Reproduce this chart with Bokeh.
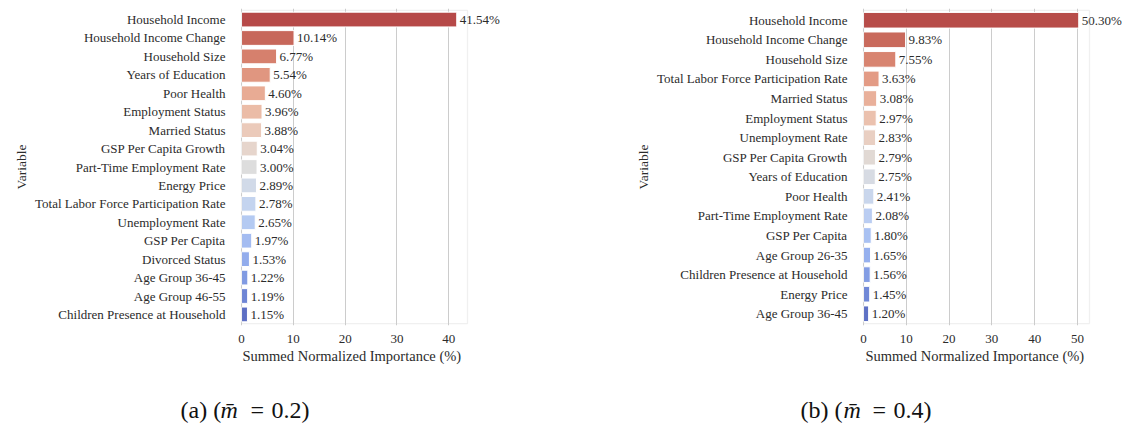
import colorsys

from bokeh.core.properties import value
from bokeh.embed import file_html
from bokeh.layouts import column, row
from bokeh.models import (BoxAnnotation, ColumnDataSource, FactorRange,
                          FixedTicker, LabelSet, Range1d, Title)
from bokeh.plotting import figure
from bokeh.resources import INLINE

# Panel (a): m = 0.2
names_a = ["Household Income", "Household Income Change", "Household Size",
           "Years of Education", "Poor Health", "Employment Status",
           "Married Status", "GSP Per Capita Growth", "Part-Time Employment Rate",
           "Energy Price", "Total Labor Force Participation Rate",
           "Unemployment Rate", "GSP Per Capita", "Divorced Status",
           "Age Group 36-45", "Age Group 46-55", "Children Presence at Household"]
vals_a = [41.54, 10.14, 6.77, 5.54, 4.60, 3.96, 3.88, 3.04, 3.00, 2.89, 2.78,
          2.65, 1.97, 1.53, 1.22, 1.19, 1.15]
ticks_a = [0, 10, 20, 30, 40]

# Panel (b): m = 0.4
names_b = ["Household Income", "Household Income Change", "Household Size",
           "Total Labor Force Participation Rate", "Married Status",
           "Employment Status", "Unemployment Rate", "GSP Per Capita Growth",
           "Years of Education", "Poor Health", "Part-Time Employment Rate",
           "GSP Per Capita", "Age Group 26-35", "Children Presence at Household",
           "Energy Price", "Age Group 36-45"]
vals_b = [50.30, 9.83, 7.55, 3.63, 3.08, 2.97, 2.83, 2.79, 2.75, 2.41, 2.08,
          1.80, 1.65, 1.56, 1.45, 1.20]
ticks_b = [0, 10, 20, 30, 40, 50]

x_label = "Summed Normalized Importance (%)"
y_label = "Variable"
captions = [["(a) (", "m\u0304", "=", "0.2)"],
            ["(b) (", "m\u0304", "=", "0.4)"]]

FONT = "Liberation Serif"
TEXT = "#2b2b2b"
GRID = "#cccccc"
MAIN_H = 370
CAP_H = 423 - MAIN_H
BOX_W = 226      # pixel width of the boxed axes region
BOX_H = 315      # pixel height of the boxed axes region

# coolwarm colormap anchors (every 1/16)
CW = [(.2298, .2987, .7537), (.3039, .4065, .8450), (.3830, .5094, .9174),
      (.4667, .6046, .9682), (.5530, .6889, .9954), (.6392, .7596, .9982),
      (.7222, .8140, .9766), (.7987, .8498, .9317), (.8654, .8654, .8654),
      (.9241, .8274, .7745), (.9589, .7698, .6780), (.9700, .6943, .5794),
      (.9580, .6028, .4818), (.9239, .4973, .3880), (.8692, .3783, .3003),
      (.7956, .2413, .2205), (.7057, .0156, .1502)]


def coolwarm(t):
    pos = t * (len(CW) - 1)
    i = min(int(pos), len(CW) - 2)
    f = pos - i
    return tuple(CW[i][k] + (CW[i + 1][k] - CW[i][k]) * f for k in range(3))


def desaturate(rgb, s=0.75):
    h, l, sat = colorsys.rgb_to_hls(*rgb)
    r, g, b = colorsys.hls_to_rgb(h, l, sat * s)
    return "#%02x%02x%02x" % (round(r * 255), round(g * 255), round(b * 255))


def palette_r(n):
    # reversed coolwarm, sampled away from both extremes
    return [desaturate(coolwarm(1 - (i + 1) / (n + 1))) for i in range(n)]


def panel(names, vals, ticks, width, left, title_offset):
    n = len(names)
    colors = palette_r(n)
    src = ColumnDataSource(dict(
        name=names, val=vals, color=colors,
        txt=["%.2f%%" % v for v in vals]))

    box_right = max(vals) * 1.05
    k = BOX_W / box_right              # pixels per unit
    x0 = -1.0 / k                      # one pixel of room for the box edge
    frame_w = width - left
    # the frame runs on to the right so the value labels are not cut
    x_range = Range1d(x0, x0 + frame_w / k)

    pad = 0.1
    unit_px = BOX_H / n
    frame_h = (n + pad) * unit_px
    top = 8
    bottom = MAIN_H - top - round(frame_h)

    p = figure(width=width, height=MAIN_H,
               y_range=FactorRange(factors=names[::-1], range_padding=pad,
                                   range_padding_units="absolute"),
               x_range=x_range,
               output_backend="svg", toolbar_location=None,
               min_border_left=left, min_border_right=0,
               min_border_top=top, min_border_bottom=bottom)
    p.hbar(y="name", right="val", left=0, height=0.8, fill_color="color",
           line_color="white", line_width=1, source=src)
    p.add_layout(LabelSet(x="val", y="name", text="txt", source=src,
                          x_offset=3, text_align="left", text_baseline="middle",
                          text_font=FONT, text_font_size="13px",
                          text_color=TEXT))
    p.add_layout(BoxAnnotation(left=0, right=box_right, bottom=0, top=n,
                               fill_color=None, fill_alpha=0,
                               line_color=GRID, line_width=1.25))

    p.xaxis.ticker = FixedTicker(ticks=ticks)
    p.yaxis.axis_label = y_label
    for ax in (p.xaxis, p.yaxis):
        ax.axis_line_color = None
        ax.major_tick_line_color = None
        ax.minor_tick_line_color = None
        ax.major_label_text_font = FONT
        ax.major_label_text_font_size = "13px"
        ax.major_label_text_color = TEXT
    p.yaxis.axis_label_text_font = FONT
    p.yaxis.axis_label_text_font_size = "13.5px"
    p.yaxis.axis_label_text_font_style = "normal"
    p.yaxis.axis_label_text_color = TEXT
    p.xaxis.major_label_standoff = 3
    p.yaxis.major_label_standoff = 9
    p.yaxis.axis_label_standoff = 3

    p.add_layout(Title(text=x_label, align="left", offset=title_offset,
                       standoff=0, text_font=FONT, text_font_size="14.5px",
                       text_font_style="normal", text_color=TEXT), "below")

    p.xgrid.grid_line_color = GRID
    p.xgrid.grid_line_width = 1
    p.ygrid.grid_line_color = None
    p.outline_line_color = None
    return p


def caption(parts, xs, width):
    c = figure(width=width, height=CAP_H, x_range=Range1d(0, width),
               y_range=Range1d(0, CAP_H), output_backend="svg",
               toolbar_location=None, min_border=0)
    c.axis.visible = False
    c.grid.visible = False
    c.outline_line_color = None
    src = ColumnDataSource(dict(
        t=parts, x=xs, y=[14] * len(parts),
        style=["normal", "italic", "normal", "normal"]))
    c.text(x="x", y="y", text="t", source=src, text_font=value(FONT),
           text_font_size=value("24px"), text_font_style="style",
           text_color="#111111", text_baseline="alphabetic",
           text_align="left")
    return c


pa = panel(names_a, vals_a, ticks_a, 560, 240, 2)
pb = panel(names_b, vals_b, ticks_b, 566, 302, 3)
ca = caption(captions[0], [180, 220, 250, 271], 560)
cb = caption(captions[1], [240, 283, 312, 333], 566)

layout = column(row(pa, pb), row(ca, cb))
open("out.html", "w").write(file_html(layout, INLINE))
